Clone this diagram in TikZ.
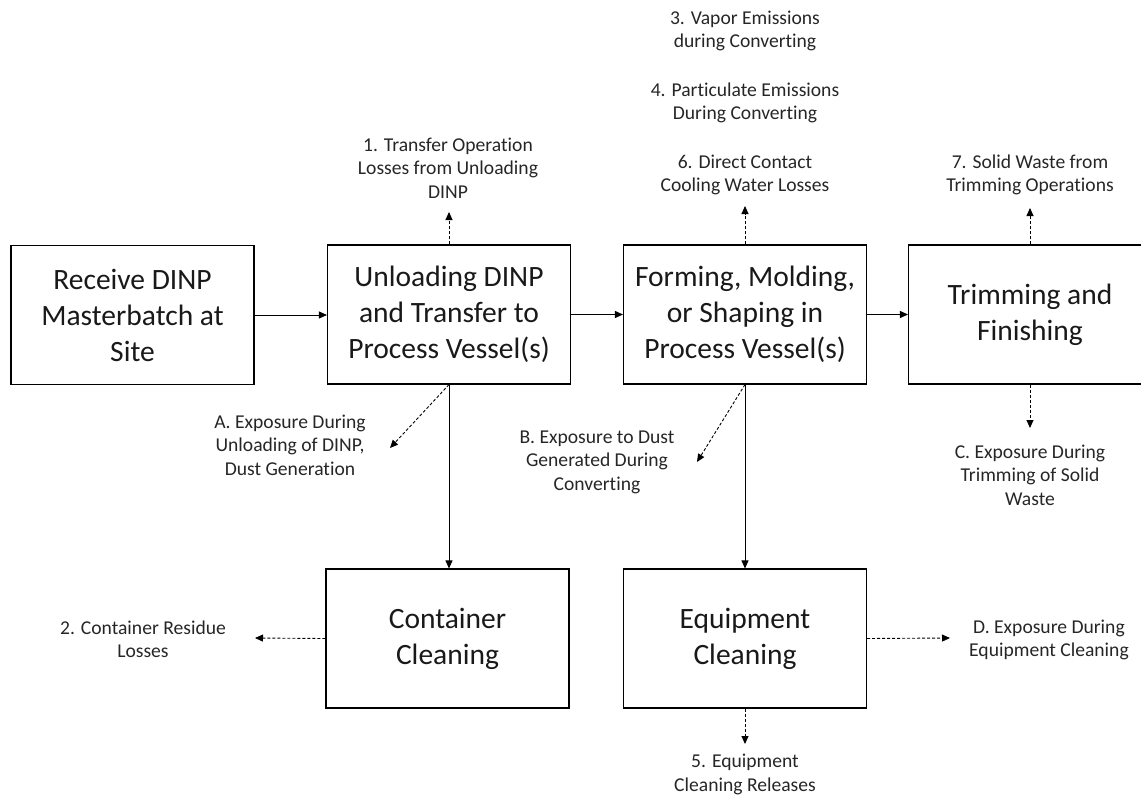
\documentclass[tikz,border=0pt]{standalone}
\usepackage{fontspec}
\setmainfont[Ligatures=NoCommon]{Carlito}
\usetikzlibrary{arrows.meta}
\begin{document}
\begin{tikzpicture}[x=1pt,y=-1pt,
  procbox/.style={draw=black,line width=1.1pt,minimum width=243pt,minimum height=139pt,
    inner sep=0pt,align=center,font=\fontsize{29.5}{36}\selectfont,text=black!90},
  lbl/.style={align=center,inner sep=0pt,font=\fontsize{19.6}{23.4}\selectfont,text=black!85},
  flow/.style={line width=0.9pt,-{Triangle[length=8pt,width=7pt]}},
  rel/.style={line width=0.9pt,dash pattern=on 3pt off 2pt,-{Triangle[length=8pt,width=7pt]}}]
\clip (0,0) rectangle (1141,795);

% process steps
\node[procbox] (recv) at (132.5,315) {Receive DINP\\Masterbatch at\\Site};
\node[procbox] (unload) at (449,314.5) {Unloading DINP\\and Transfer to\\Process Vessel(s)};
\node[procbox] (form) at (745,314.5) {Forming, Molding,\\or Shaping in\\Process Vessel(s)};
\node[procbox] (trim) at (1030,314.5) {Trimming and\\Finishing};
\node[procbox] (ccln) at (447.5,638.5) {Container\\Cleaning};
\node[procbox] (ecln) at (745,638.5) {Equipment\\Cleaning};

% release and exposure labels
\node[lbl] (r1) at (448,168) {1. Transfer Operation\\Losses from Unloading\\DINP};
\node[lbl] (r3) at (745,31) {3. Vapor Emissions\\during Converting};
\node[lbl] (r4) at (745,103) {4. Particulate Emissions\\During Converting};
\node[lbl] (r6) at (745,175) {6. Direct Contact\\Cooling Water Losses};
\node[lbl] (r7) at (1030,175) {7. Solid Waste from\\Trimming Operations};
\node[lbl] (eA) at (290,445) {A. Exposure During\\Unloading of DINP,\\Dust Generation};
\node[lbl] (eB) at (597,462) {B. Exposure to Dust\\Generated During\\Converting};
\node[lbl] (eC) at (1030,475) {C. Exposure During\\Trimming of Solid\\Waste};
\node[lbl] (r2) at (143,639.5) {2. Container Residue\\Losses};
\node[lbl] (eD) at (1049,640) {D. Exposure During\\Equipment Cleaning};
\node[lbl] (r5) at (745,774.5) {5. Equipment\\Cleaning Releases};

% arrow tips of the release arrows
\coordinate (t1) at (449,212);
\coordinate (t6) at (745,206);
\coordinate (t7) at (1030,208);
\coordinate (tA) at (390,448);
\coordinate (tB) at (697,462);
\coordinate (tC) at (1030,428);
\coordinate (t2) at (255,638);
\coordinate (tD) at (950,638);
\coordinate (t5) at (745,744);

% main flow
\draw[flow] (recv.east) -- (recv.east -| unload.west);
\draw[flow] (unload.east) -- (form.west);
\draw[flow] (form.east) -- (trim.west);
\draw[flow] (unload.south) -- (unload.south |- ccln.north);
\draw[flow] (form.south) -- (ecln.north);

% releases and exposures
\draw[rel] (unload.north) -- (t1);
\draw[rel] (form.north) -- (t6);
\draw[rel] (trim.north) -- (t7);
\draw[rel] (unload.south) -- (tA);
\draw[rel] (form.south) -- (tB);
\draw[rel] (trim.south) -- (tC);
\draw[rel] (ccln.west) -- (t2);
\draw[rel] (ecln.east) -- (tD);
\draw[rel] (ecln.south) -- (t5);
\end{tikzpicture}
\end{document}
